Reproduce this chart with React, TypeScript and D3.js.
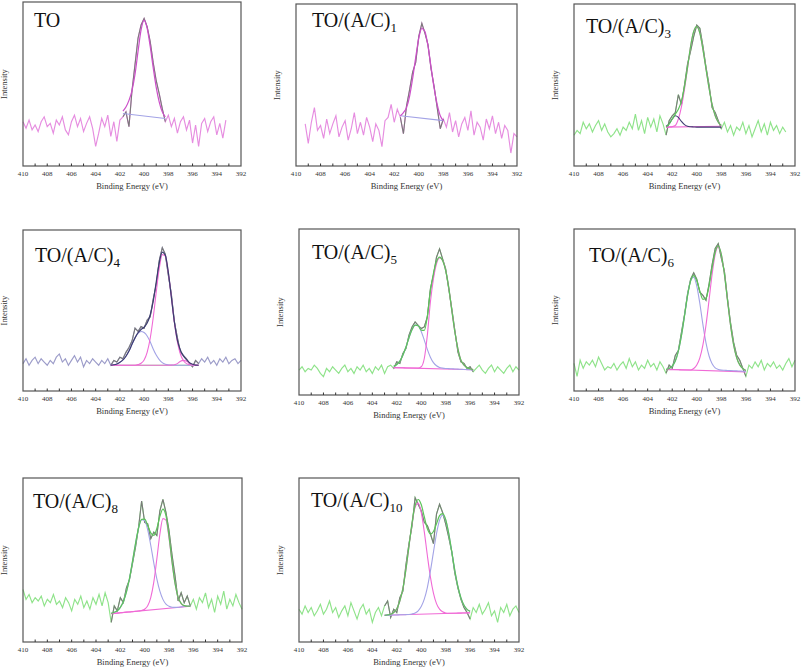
import * as d3 from "d3";
import { useEffect, useRef } from "react";

const energyStep = 0.25;
const tickLabels = [410, 408, 406, 404, 402, 400, 398, 396, 394, 392];

// raw spectra, one value every 0.25 eV going down from the start energy
const toRaw = [27, 23, 28, 22, 25, 21, 27, 30, 24, 26, 20, 28, 25, 30, 22, 19, 27, 31, 24, 29, 21, 26, 30, 23, 12, 20, 29, 24, 31, 18, 27, 15, 28, 30, 33, 24, 46, 62, 78, 86, 90, 85, 76, 63, 52, 44, 35, 27, 31, 24, 29, 20, 27, 30, 22, 28, 14, 25, 12, 26, 29, 21, 27, 30, 19, 26, 17, 28];
const ac1Raw = [26, 14, 27, 36, 22, 25, 17, 29, 20, 26, 31, 18, 24, 28, 16, 23, 33, 20, 27, 19, 30, 24, 15, 26, 22, 12, 28, 30, 38, 27, 35, 30, 20, 37, 47, 58, 64, 80, 88, 82, 75, 60, 49, 36, 23, 29, 24, 33, 21, 28, 18, 26, 30, 22, 34, 19, 27, 24, 16, 29, 23, 31, 20, 27, 17, 25, 22, 8, 20, 18];
const ac3Raw = [19, 22, 20, 27, 23, 26, 21, 25, 28, 22, 26, 21, 18, 20, 23, 19, 24, 22, 27, 23, 32, 22, 28, 20, 30, 24, 29, 21, 31, 26, 19, 28, 31, 33, 44, 38, 50, 63, 71, 80, 87, 85, 74, 61, 50, 36, 33, 28, 23, 27, 21, 25, 19, 24, 22, 27, 20, 25, 18, 23, 28, 21, 26, 19, 27, 22, 25, 20, 24, 21];
const ac4Raw = [17, 20, 16, 19, 21, 17, 20, 18, 16, 19, 17, 21, 23, 18, 20, 16, 19, 22, 18, 21, 15, 19, 17, 20, 18, 16, 19, 17, 20, 16, 19, 18, 21, 20, 24, 27, 31, 39, 37, 40, 39, 44, 46, 57, 66, 81, 89, 85, 72, 60, 43, 33, 24, 22, 20, 17, 15, 19, 17, 20, 18, 21, 17, 19, 16, 20, 18, 21, 17, 19, 20, 17, 19];
const ac5Raw = [15, 17, 14, 16, 15, 18, 16, 13, 11, 16, 14, 17, 15, 13, 16, 18, 14, 16, 13, 17, 15, 18, 14, 16, 13, 17, 15, 18, 13, 17, 18, 16, 20, 19, 25, 28, 36, 41, 44, 42, 40, 41, 47, 64, 72, 83, 88, 82, 76, 64, 52, 39, 26, 20, 19, 16, 17, 14, 16, 18, 15, 13, 16, 18, 14, 17, 15, 13, 16, 18, 14, 17, 15];
const ac6Raw = [17, 9, 19, 14, 18, 16, 19, 15, 21, 17, 13, 15, 14, 17, 13, 16, 18, 14, 20, 15, 18, 13, 16, 14, 19, 15, 17, 13, 18, 15, 11, 16, 14, 22, 25, 36, 47, 60, 69, 73, 69, 61, 59, 56, 66, 78, 88, 91, 82, 74, 57, 42, 30, 22, 19, 14, 9, 16, 14, 18, 15, 19, 13, 17, 15, 18, 14, 16, 13, 17, 20, 15, 19];
const ac8Raw = [32, 26, 29, 24, 27, 25, 28, 22, 26, 24, 29, 23, 25, 21, 27, 24, 19, 26, 23, 28, 21, 25, 20, 27, 23, 29, 22, 30, 24, 12, 22, 19, 27, 24, 33, 38, 48, 58, 70, 86, 73, 72, 63, 67, 65, 80, 87, 79, 68, 53, 40, 25, 30, 24, 28, 22, 26, 20, 27, 24, 30, 21, 26, 18, 28, 23, 31, 20, 26, 22, 29, 24, 20];
const ac10Raw = [20, 17, 22, 18, 21, 16, 19, 23, 17, 20, 25, 18, 21, 15, 19, 22, 16, 24, 19, 14, 20, 23, 17, 20, 12, 18, 21, 16, 22, 25, 15, 20, 18, 27, 31, 47, 60, 71, 88, 84, 80, 73, 71, 66, 60, 78, 84, 79, 72, 64, 55, 42, 33, 26, 21, 18, 14, 21, 18, 23, 17, 20, 24, 16, 19, 12, 21, 18, 23, 16, 20, 22, 18];

// fitted curves, same 0.25 eV grid, starting at the fit start energy
const toEnvelope = [33.5, 36, 40, 46, 56, 70, 83, 89, 84, 73, 60, 48, 39, 33, 30];
const toBackground = [32, 29];

const ac1Envelope = [31, 33, 36, 43, 54, 67, 79, 85, 83, 74, 61, 48, 38, 31, 28];
const ac1Background = [31, 28];

const ac3Envelope = [24, 26, 29, 32, 35, 40, 49, 61, 74, 83, 86, 82, 72, 60, 48, 38, 31, 27, 25];
const ac3Main = [24, 24.1, 24.3, 25, 29, 36.5, 47.5, 60.5, 74, 83, 86, 82, 72, 60, 48, 38, 31, 27, 25];
const ac3Small = [24.5, 26, 29, 31, 30, 27.5, 25.5, 24.5, 24.2, 24.1, 24, 24, 24, 24, 24, 24, 24, 24, 24];
const ac3Background = [24, 24.5];

const ac4Envelope = [16.1, 16.3, 16.8, 17.8, 19.3, 21.6, 24.8, 29, 33, 36.2, 38.2, 39.6, 42.2, 47.2, 55.6, 67.7, 79.6, 86.3, 84.3, 73.7, 58.3, 42.9, 31.5, 25.3, 21.8, 19.5, 17.6, 16.6, 16.1, 16];
const ac4Blue = [16.1, 16.3, 16.8, 17.8, 19.3, 21.6, 24.8, 29, 33, 35.8, 37, 36.3, 34.2, 30.6, 26.1, 22.3, 19.5, 17.6, 16.6, 16.2, 16.1, 16, 16, 16, 16, 16, 16, 16, 16, 16];
const ac4Pink = [16, 16, 16, 16, 16, 16, 16, 16, 16, 16.4, 17.2, 19.3, 24, 32.6, 45.5, 61.4, 76.1, 84.7, 83.7, 73.5, 58.2, 42.6, 30.5, 22.8, 18.8, 17, 16.3, 16.1, 16, 16];
const ac4Tail = [16, 16, 16, 16, 16, 16, 16, 16, 16, 16, 16, 16, 16, 16, 16, 16, 16, 16, 16, 16, 16.1, 16.3, 17, 18.5, 19, 18.5, 17.3, 16.5, 16.1, 16];
const ac4Background = [16, 16];

const ac5Envelope = [17.3, 18.4, 20.4, 24, 28.9, 34.5, 39.4, 42.1, 41.7, 39.1, 38.9, 47.3, 62.6, 73.3, 80.4, 83, 81, 75, 65, 51, 38, 28, 21, 18, 16.5, 15.8, 15.3];
const ac5Blue = [17.3, 18.4, 20.4, 24, 28.9, 34.5, 39.4, 42.1, 41.7, 38.3, 33.1, 27.5, 22.8, 19.5, 17.6, 16.6, 16.2, 16, 15.9, 15.8, 15.7, 15.6, 15.5, 15.4, 15.3, 15.2, 15.1];
const ac5Pink = [16.5, 16.4, 16.4, 16.4, 16.3, 16.3, 16.3, 16.3, 16.2, 17, 22, 36, 56, 70, 79, 82.5, 81, 75, 65, 51, 38, 28, 21, 18, 16.5, 15.8, 15.3];
const ac5Background = [16.5, 15.2];

const ac6Envelope = [13.3, 13.9, 15.3, 18.5, 24.6, 34.1, 46.3, 58.9, 68, 71.2, 68, 61.6, 56.6, 57.4, 64.8, 76.1, 85.8, 89.5, 84.4, 72.1, 56.1, 40.6, 28.5, 20.5, 16.1, 13.9, 12.6];
const ac6Blue = [13.3, 13.9, 15.3, 18.5, 24.6, 34.1, 46.3, 58.9, 68, 70.3, 64.8, 54, 41, 29.7, 21.6, 16.8, 14.3, 13.3, 12.9, 12.8, 12.7, 12.6, 12.5, 12.4, 12.3, 12.2, 12.1];
const ac6Pink = [13.3, 13.2, 13.2, 13.1, 13.1, 13, 13, 13, 13, 13.9, 16.1, 20.5, 28.5, 40.6, 56.1, 72.1, 84.3, 89, 84.3, 72.1, 56.1, 40.6, 28.5, 20.5, 16.1, 13.9, 12.6];
const ac6Background = [13.4, 11.8];

const ac8Envelope = [17.5, 18.1, 19, 21.1, 24.7, 30.5, 38.7, 49.2, 60.2, 69.5, 74.8, 74.9, 71.1, 66.5, 65, 69.2, 76.6, 81, 77, 64.7, 48.9, 35.6, 27.4, 23.5, 22.2, 21.9, 21.9];
const ac8Blue = [17.5, 18.1, 19, 21.1, 24.7, 30.5, 38.7, 49.2, 60.2, 69.5, 74.6, 74.1, 68.4, 59, 48.2, 38.5, 31, 26, 23.1, 21.8, 21.2, 21.1, 21.2, 21.4, 21.6, 21.8, 21.9];
const ac8Pink = [17.3, 17.5, 17.6, 17.8, 18, 18.2, 18.3, 18.5, 18.7, 18.9, 19.2, 20, 22.1, 27.1, 36.5, 50.6, 65.7, 75.2, 74.3, 63.5, 48.5, 35.5, 27.3, 23.4, 22.1, 21.8, 21.8];
const ac8Background = [17.3, 21.8];

const ac10Envelope = [16.3, 16.5, 16.9, 18, 20.3, 24.9, 32.7, 44.3, 58.5, 72.8, 83.2, 86.9, 83.8, 76.4, 69.1, 65.8, 67.4, 72.1, 77, 78.3, 74.7, 66.2, 55.1, 43.6, 33.9, 26.9, 22.4, 19.9, 18.7];
const ac10Pink = [16.3, 16.5, 16.9, 18, 20.3, 24.9, 32.7, 44.3, 58.4, 72.4, 82.2, 84.7, 79.1, 67.3, 52.9, 39.7, 29.8, 23.4, 20, 18.4, 17.7, 17.5, 17.5, 17.5, 17.6, 17.6, 17.7, 17.7, 17.8];
const ac10Blue = [16.3, 16.4, 16.4, 16.5, 16.5, 16.6, 16.6, 16.7, 16.8, 17.1, 17.7, 19, 21.6, 26.1, 33.2, 43.2, 54.8, 66, 74.3, 77.3, 74.4, 66.2, 55.1, 43.6, 33.9, 26.9, 22.4, 19.9, 18.7];
const ac10Background = [16.3, 17.8];

const pinkNoise = "#e68de0";
const magenta = "#cc4fc9";
const lavender = "#a3a3e6";
const greenNoise = "#8fe38a";
const greenEnv = "#5cc45a";
const hotPink = "#f06ad6";
const greyRaw = "#7a7a7a";
const navy = "#3c3c70";

const panels = [
    { sub: "", frame: [23, 2, 218, 164], title: [11, 25], raw: toRaw, rawStart: 410, fitStart: 401.75, envelope: toEnvelope, background: toBackground, comps: [], noise: pinkNoise, env: magenta, bg: lavender },
    { sub: "1", frame: [296, 4, 221, 162], title: [16, 23], raw: ac1Raw, rawStart: 409.25, fitStart: 401.5, envelope: ac1Envelope, background: ac1Background, comps: [], noise: pinkNoise, env: magenta, bg: lavender },
    { sub: "3", frame: [574, 4, 221, 162], title: [12, 29], raw: ac3Raw, rawStart: 410, fitStart: 402.5, envelope: ac3Envelope, background: ac3Background, comps: [[ac3Main, hotPink], [ac3Small, navy]], noise: greenNoise, env: greenEnv, bg: hotPink },
    { sub: "4", frame: [23, 230, 218, 161], title: [12, 32], raw: ac4Raw, rawStart: 410, fitStart: 402.75, envelope: ac4Envelope, background: ac4Background, comps: [[ac4Blue, lavender], [ac4Pink, hotPink], [ac4Tail, hotPink]], noise: "#9c9cc9", env: navy, bg: greenNoise },
    { sub: "5", frame: [299, 229, 220, 166], title: [13, 30], raw: ac5Raw, rawStart: 410, fitStart: 402.25, envelope: ac5Envelope, background: ac5Background, comps: [[ac5Blue, lavender], [ac5Pink, hotPink]], noise: greenNoise, env: greenEnv, bg: hotPink },
    { sub: "6", frame: [574, 229, 221, 162], title: [15, 33], raw: ac6Raw, rawStart: 410, fitStart: 402.5, envelope: ac6Envelope, background: ac6Background, comps: [[ac6Blue, lavender], [ac6Pink, hotPink]], noise: greenNoise, env: greenEnv, bg: hotPink },
    { sub: "8", frame: [23, 478, 219, 164], title: [10, 30], raw: ac8Raw, rawStart: 410, fitStart: 402.75, envelope: ac8Envelope, background: ac8Background, comps: [[ac8Blue, lavender], [ac8Pink, hotPink]], noise: greenNoise, env: greenEnv, bg: hotPink },
    { sub: "10", frame: [299, 478, 220, 164], title: [12, 29], raw: ac10Raw, rawStart: 410, fitStart: 403, envelope: ac10Envelope, background: ac10Background, comps: [[ac10Pink, hotPink], [ac10Blue, lavender]], noise: greenNoise, env: greenEnv, bg: hotPink },
];

const serif = "'Liberation Serif', 'Times New Roman', serif";

export default function App() {
    const svgRef = useRef<SVGSVGElement>(null);

    useEffect(() => {
        const svg = d3.select(svgRef.current);
        svg.selectAll("*").remove();
        panels.forEach((p) => drawPanel(svg, p));
    }, []);

    const drawPanel = (svg: any, p: any) => {
        const [fx, fy, fw, fh] = p.frame;
        const x = d3.scaleLinear().domain([410, 392]).range([0, fw]);
        const y = d3.scaleLinear().domain([0, 100]).range([fh, 0]);
        const g = svg.append("g").attr("transform", "translate(" + fx + "," + fy + ")");

        const line = d3
            .line<number[]>()
            .x((d) => x(d[0]))
            .y((d) => y(d[1]));
        const smooth = d3
            .line<number[]>()
            .x((d) => x(d[0]))
            .y((d) => y(d[1]))
            .curve(d3.curveMonotoneX);

        const rawPts = p.raw.map((v: number, i: number) => [p.rawStart - i * energyStep, v]);
        const fitEnd = p.fitStart - (p.envelope.length - 1) * energyStep;
        const onFit = (arr: number[]) => arr.map((v, i) => [p.fitStart - i * energyStep, v]);

        // raw spectrum
        g.append("path").datum(rawPts).attr("d", line).attr("fill", "none").attr("stroke", p.noise).attr("stroke-width", 1.15);
        // raw data inside the fit window
        const fitRaw = rawPts.filter((d: number[]) => d[0] <= p.fitStart + 1e-6 && d[0] >= fitEnd - 1e-6);
        g.append("path").datum(fitRaw).attr("d", line).attr("fill", "none").attr("stroke", greyRaw).attr("stroke-width", 1.1);

        // background
        g.append("path")
            .datum([[p.fitStart, p.background[0]], [fitEnd, p.background[1]]])
            .attr("d", line)
            .attr("fill", "none")
            .attr("stroke", p.bg)
            .attr("stroke-width", 1.1);

        // components
        p.comps.forEach(([arr, color]: any) => {
            g.append("path").datum(onFit(arr)).attr("d", smooth).attr("fill", "none").attr("stroke", color).attr("stroke-width", 1.1);
        });
        // envelope
        g.append("path").datum(onFit(p.envelope)).attr("d", smooth).attr("fill", "none").attr("stroke", p.env).attr("stroke-width", 1.2);

        // frame
        g.append("rect").attr("width", fw).attr("height", fh).attr("fill", "none").attr("stroke", "#555").attr("stroke-width", 1.2);

        // ticks every 1 eV
        g.selectAll(".tick")
            .data(d3.range(409, 392, -1))
            .enter()
            .append("line")
            .attr("x1", (d: number) => x(d))
            .attr("x2", (d: number) => x(d))
            .attr("y1", fh)
            .attr("y2", fh - 2.5)
            .attr("stroke", "#333")
            .attr("stroke-width", 1);

        g.selectAll(".tl")
            .data(tickLabels)
            .enter()
            .append("text")
            .attr("x", (d: number) => x(d))
            .attr("y", fh + 10)
            .attr("text-anchor", "middle")
            .attr("font-family", serif)
            .attr("font-size", 7)
            .attr("fill", "#333")
            .text((d: number) => d);

        g.append("text")
            .attr("x", fw / 2)
            .attr("y", fh + 22.5)
            .attr("text-anchor", "middle")
            .attr("font-family", serif)
            .attr("font-size", 8.5)
            .attr("fill", "#333")
            .text("Binding Energy (eV)");

        g.append("text")
            .attr("transform", "translate(-16," + fh / 2 + ") rotate(-90)")
            .attr("text-anchor", "middle")
            .attr("font-family", serif)
            .attr("font-size", 8.5)
            .attr("fill", "#333")
            .text("Intensity");

        const title = g
            .append("text")
            .attr("x", p.title[0])
            .attr("y", p.title[1])
            .attr("font-family", serif)
            .attr("font-size", 20)
            .attr("fill", "#111");
        title.append("tspan").text(p.sub ? "TO/(A/C)" : "TO");
        if (p.sub) {
            title.append("tspan").attr("font-size", 13).attr("dy", 5).text(p.sub);
        }
    };

    return <svg ref={svgRef} width={803} height={669} style={{ position: "absolute", left: 0, top: 0, background: "#fff" }} />;
}
